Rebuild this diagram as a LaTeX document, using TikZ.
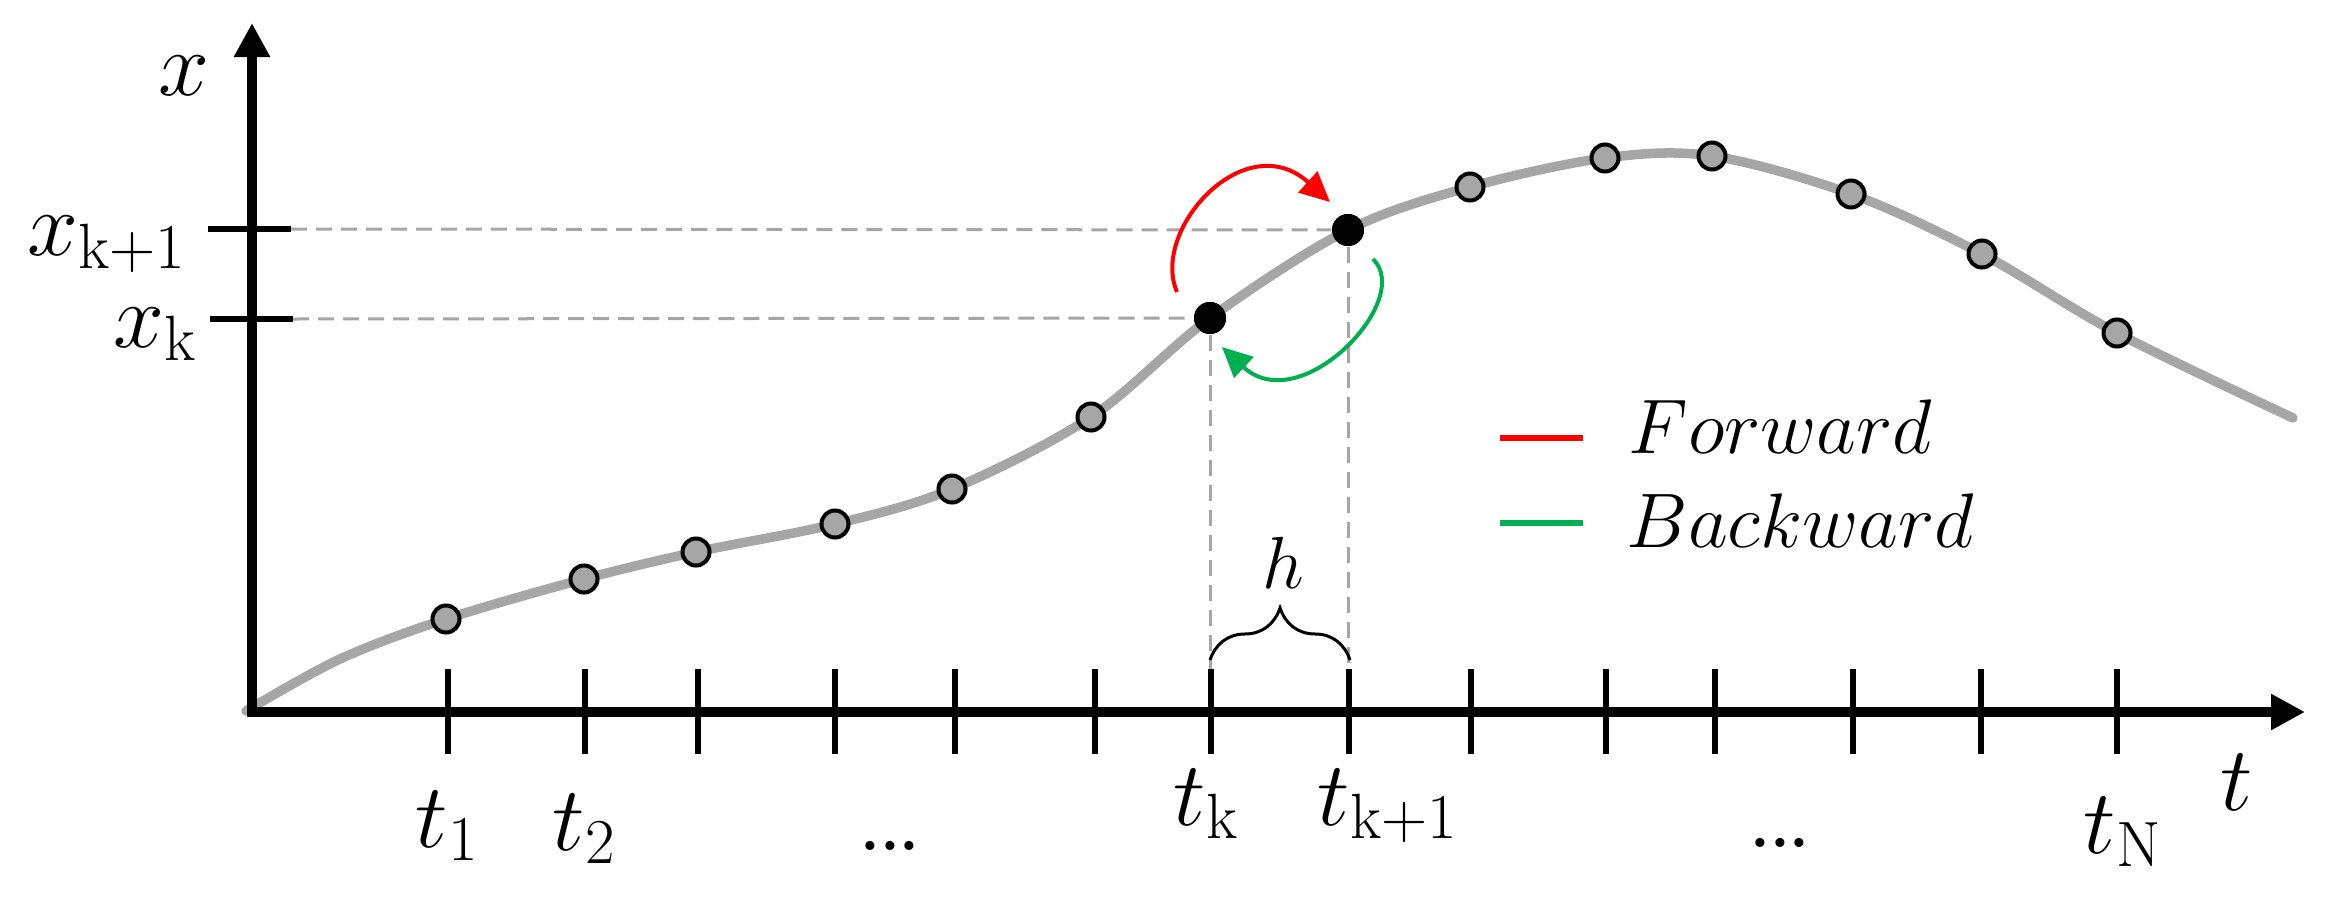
\RequirePackage{fix-cm}
\documentclass[tikz,border=0pt]{standalone}
\usetikzlibrary{arrows.meta,decorations.pathreplacing}
\definecolor{curvegray}{HTML}{A6A6A6}
\definecolor{fwdred}{HTML}{FF0000}
\definecolor{bwdgreen}{HTML}{00B050}
\newcommand\axfont{\fontsize{26}{30}\selectfont}
\newcommand\legfont{\fontsize{22}{26}\selectfont}
\newcommand\hfont{\fontsize{21}{25}\selectfont}
\newcommand\dotsfont{\fontsize{18}{22}\selectfont\bfseries}
\tikzset{
  axisline/.style={line width=0.1cm, -{Triangle[length=0.34cm,width=0.34cm]}},
  tickline/.style={line width=0.065cm},
  guide/.style={curvegray, line width=0.03cm, dash pattern=on 0.16cm off 0.09cm},
  curveline/.style={curvegray, line width=0.095cm, line cap=round},
  graydot/.style={circle, draw=black, fill=curvegray, line width=0.04cm, minimum size=0.27cm, inner sep=0pt},
  blackdot/.style={circle, fill=black, minimum size=0.32cm, inner sep=0pt},
  lbl/.style={inner sep=0pt, anchor=base west, font=\axfont},
  leglbl/.style={inner sep=0pt, anchor=base west, font=\legfont},
  dotslbl/.style={inner sep=0pt, anchor=base, font=\dotsfont},
  fwdarrow/.style={fwdred, line width=0.04cm, -{Triangle[length=0.3cm,width=0.28cm]}},
  bwdarrow/.style={bwdgreen, line width=0.04cm, -{Triangle[length=0.3cm,width=0.28cm]}},
  legline/.style={line width=0.06cm},
  bracestyle/.style={line width=0.03cm, decorate, decoration={brace, amplitude=0.52cm, aspect=0.5}}
}
\begin{document}
\begin{tikzpicture}[x=0.01cm, y=-0.01cm]
\useasboundingbox (0,0) rectangle (2337,897);

% key coordinates
\coordinate (O) at (252,712);
\coordinate (ybot) at (252,717);
\coordinate (ytip) at (252,23);
\coordinate (xleft) at (247,712);
\coordinate (xtip) at (2305,712);

% black dots (x_k, x_{k+1})
\node[blackdot] (dk) at (1210,318) {};
\node[blackdot] (dk1) at (1348,230) {};

% y-axis tick ends
\coordinate (ykL) at (210,319);
\coordinate (ykR) at (293,319);
\coordinate (yk1L) at (208,229);
\coordinate (yk1R) at (291,229);

% axis feet for dashed verticals
\coordinate (fk) at (1210,712);
\coordinate (fk1) at (1348,712);

% dashed guides
\draw[guide] (ykR) -- (dk);
\draw[guide] (yk1R) -- (dk1);
\draw[guide] (dk) -- (fk);
\draw[guide] (dk1) -- (fk1);

% curve
\draw[curveline] plot[smooth, tension=0.55] coordinates {
  (246,711) (340,659) (446,619) (584,579) (696,552) (835,524) (952,489) (1091,417)
  (1210,318) (1348,230) (1470,187) (1605,158) (1712,156) (1851,194)
  (1982,254) (2117,333) (2293,418)};

% axes
\draw[axisline] (ybot) -- (ytip);
\draw[axisline] (xleft) -- (xtip);

% y ticks
\draw[tickline] (ykL) -- (ykR);
\draw[tickline] (yk1L) -- (yk1R);

% x ticks
\foreach \tx in {448,585,698,835,955,1095,1211,1349,1471,1606,1715,1853,1981,2117}
  \draw[tickline] (\tx,669) -- (\tx,754);

% gray dots
\node[graydot] (d1) at (446,619) {};
\node[graydot] (d2) at (584,579) {};
\node[graydot] (d3) at (696,552) {};
\node[graydot] (d4) at (835,524) {};
\node[graydot] (d5) at (952,489) {};
\node[graydot] (d6) at (1091,417) {};
\node[graydot] (d9) at (1470,187) {};
\node[graydot] (d10) at (1605,158) {};
\node[graydot] (d11) at (1712,156) {};
\node[graydot] (d12) at (1851,194) {};
\node[graydot] (d13) at (1982,254) {};
\node[graydot] (d14) at (2117,333) {};
% black dots redrawn on top
\node[blackdot] at (dk) {};
\node[blackdot] at (dk1) {};

% forward / backward arrows
\coordinate (rs) at (1177,292);
\coordinate (re) at (1330,202);
\draw[fwdarrow] (rs) .. controls (1150,230) and (1245,125) .. (re);
\coordinate (gs) at (1373,259);
\coordinate (ge) at (1222,347);
\draw[bwdarrow] (gs) .. controls (1415,300) and (1300,420) .. (ge);

% brace and h
\coordinate (bl) at (1210,660);
\coordinate (br) at (1350,660);
\draw[bracestyle] (bl) -- (br);
\node[inner sep=0pt, anchor=base west, font=\hfont] (hl) at (1262,588) {$h$};

% legend
\coordinate (lr1) at (1500,438);
\coordinate (lr2) at (1583,438);
\draw[legline, fwdred] (lr1) -- (lr2);
\coordinate (lg1) at (1500,523);
\coordinate (lg2) at (1583,523);
\draw[legline, bwdgreen] (lg1) -- (lg2);
\node[leglbl] (fwd) at (1628,453) {$Forward$};
\node[leglbl] (bwd) at (1626,547) {$Backward$};

% axis labels
\node[lbl] (lx) at (158,95) {$x$};
\node[lbl] (lxk1) at (27,255) {$x_{\mathrm{k+1}}$};
\node[lbl] (lxk) at (113,347) {$x_{\mathrm{k}}$};
\node[lbl] (lt1) at (415,847) {$t_1$};
\node[lbl] (lt2) at (552,850) {$t_2$};
\node[lbl] (ltk) at (1173,825) {$t_{\mathrm{k}}$};
\node[lbl] (ltk1) at (1317,825) {$t_{\mathrm{k+1}}$};
\node[lbl] (ltN) at (2083,853) {$t_{\mathrm{N}}$};
\node[lbl] (lt) at (2220,810) {$t$};
\node[dotslbl] (dots1) at (890,850) {...};
\node[dotslbl] (dots2) at (1780,847) {...};
\end{tikzpicture}
\end{document}
